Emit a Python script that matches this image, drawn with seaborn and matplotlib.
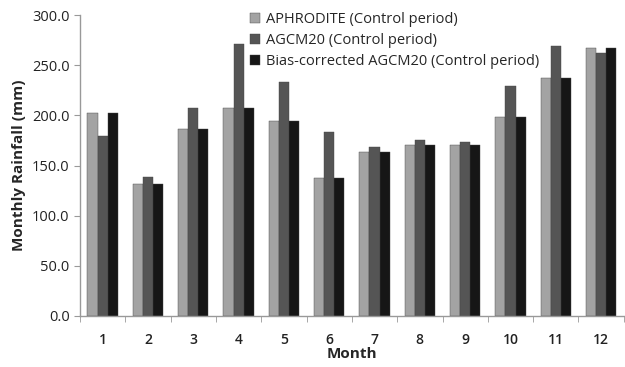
import pandas as pd
import numpy as np
import matplotlib
matplotlib.use('Agg')
import matplotlib.pyplot as plt
import seaborn as sns
from matplotlib.ticker import FixedLocator, FormatStrFormatter

months = [str(m) for m in range(1, 13)]
aphrodite = [202, 132, 186, 207, 194, 138, 163, 170, 170, 198, 237, 267]
agcm20 = [179, 139, 207, 271, 233, 183, 168, 175, 173, 229, 269, 262]
bias_corr = [202, 132, 186, 207, 194, 138, 163, 170, 170, 198, 237, 267]
series_names = ['APHRODITE (Control period)', 'AGCM20 (Control period)',
                'Bias-corrected AGCM20 (Control period)']

df = pd.DataFrame({
    'Month': months * 3,
    'Rainfall': aphrodite + agcm20 + bias_corr,
    'Series': [series_names[0]] * 12 + [series_names[1]] * 12 + [series_names[2]] * 12,
})

sns.set_style('white')
plt.rcParams['font.family'] = ['Open Sans', 'DejaVu Sans']

fig = plt.figure(figsize=(6.25, 3.67), dpi=100)
ax = fig.add_axes([0.128, 0.139, 0.870, 0.820])

palette = ['#a3a3a3', '#555555', '#161616']
sns.barplot(data=df, x='Month', y='Rainfall', hue='Series', palette=palette,
            width=0.67, ax=ax, edgecolor='#444444', linewidth=0.3, saturation=1)

ax.set_ylim(0, 300)
ax.set_xlim(-0.5, 11.5)
ax.set_yticks(np.arange(0, 301, 50))
ax.yaxis.set_major_formatter(FormatStrFormatter('%.1f'))
ax.tick_params(axis='y', labelsize=10.5, colors='#222222', length=4, color='#999999', direction='out', left=True)
ax.tick_params(axis='x', which='major', labelsize=10, colors='#222222', length=0, pad=12)
ax.xaxis.set_minor_locator(FixedLocator(np.arange(-0.5, 12, 1)))
ax.tick_params(axis='x', which='minor', length=4, color='#999999', direction='out', bottom=True)
for lab in ax.get_xticklabels():
    lab.set_fontweight('semibold')

for s in ['top', 'right']:
    ax.spines[s].set_visible(False)
for s in ['left', 'bottom']:
    ax.spines[s].set_color('#999999')
    ax.spines[s].set_linewidth(1)

ax.set_xlabel('Month', fontsize=11, fontweight='bold', labelpad=0)
ax.set_ylabel('Monthly Rainfall (mm)', fontsize=11, fontweight='bold', labelpad=4)

ax.legend(loc='upper left', bbox_to_anchor=(0.30, 1.035), frameon=False, fontsize=10.5,
          handlelength=0.65, handleheight=0.7, handletextpad=0.4, labelspacing=0.42,
          borderpad=0)

fig.savefig('out.png', dpi=100)
